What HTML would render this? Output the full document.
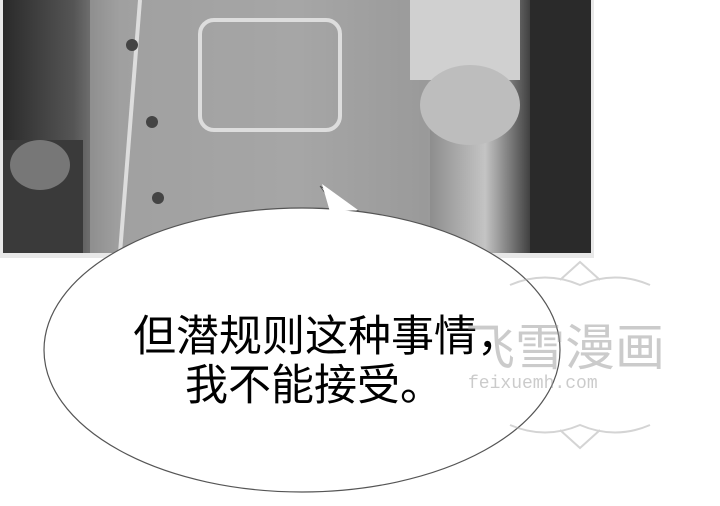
<!DOCTYPE html>
<html><head><meta charset="utf-8"><style>
html,body{margin:0;padding:0;background:#fff;width:720px;height:506px;overflow:hidden}
svg{display:block}
</style></head><body>
<svg width="720" height="506" viewBox="0 0 720 506">
<defs>
<linearGradient id="bg" x1="0" x2="1" y1="0" y2="0">
<stop offset="0" stop-color="#2a2a2a"/><stop offset="0.12" stop-color="#555"/>
<stop offset="0.2" stop-color="#9a9a9a"/><stop offset="0.5" stop-color="#a8a8a8"/>
<stop offset="0.72" stop-color="#8a8a8a"/><stop offset="0.82" stop-color="#c4c4c4"/>
<stop offset="0.9" stop-color="#3a3a3a"/><stop offset="1" stop-color="#1e1e1e"/>
</linearGradient>
</defs>
<g>
<rect x="0" y="0" width="594" height="258" fill="#e8e8e8"/>
<rect x="3" y="0" width="588" height="253" fill="url(#bg)"/>
<rect x="90" y="0" width="340" height="253" fill="#a5a5a5" opacity="0.6"/>
<rect x="200" y="20" width="140" height="110" rx="14" fill="none" stroke="#ddd" stroke-width="4"/>
<path d="M140 0 L120 253" stroke="#ddd" stroke-width="4" fill="none"/>
<circle cx="132" cy="45" r="6" fill="#444"/><circle cx="152" cy="122" r="6" fill="#444"/><circle cx="158" cy="198" r="6" fill="#444"/>
<rect x="410" y="0" width="110" height="80" fill="#d0d0d0"/>
<ellipse cx="470" cy="105" rx="50" ry="40" fill="#bdbdbd"/>
<rect x="3" y="140" width="80" height="113" fill="#3a3a3a"/>
<ellipse cx="40" cy="165" rx="30" ry="25" fill="#777"/>
<rect x="530" y="0" width="61" height="253" fill="#2a2a2a"/>
</g>
<g>
<path d="M320 186 C330 200 335 205 345 210 L360 212 Z" fill="#fff" stroke="#555" stroke-width="1"/>
<ellipse cx="302" cy="350" rx="258" ry="142" fill="#fff" stroke="#555" stroke-width="1.2"/>
<path d="M322 184 L330 212 L358 210 Z" fill="#fff"/>
<text x="133" y="351" font-family="'Liberation Sans','Noto Sans CJK SC',sans-serif" font-size="43" fill="#000">但潜规则这种事情，</text>
<text x="185" y="400" font-family="'Liberation Sans','Noto Sans CJK SC',sans-serif" font-size="43" fill="#000">我不能接受。</text>
</g>
<g opacity="0.5">
<path d="M510 285 Q545 270 580 285 Q615 270 650 285 M560 280 L580 262 L600 280" fill="none" stroke="#aaa" stroke-width="2"/>
<path d="M510 425 Q545 440 580 425 Q615 440 650 425 M560 430 L580 448 L600 430" fill="none" stroke="#aaa" stroke-width="2"/>
<text x="465" y="365" font-family="'Liberation Sans','Noto Sans CJK SC',sans-serif" font-size="50" fill="#999">飞雪漫画</text>
<text x="468" y="388" font-family="'Liberation Mono',monospace" font-size="18" fill="#999">feixuemh.com</text>
</g>
</svg>
</body></html>
